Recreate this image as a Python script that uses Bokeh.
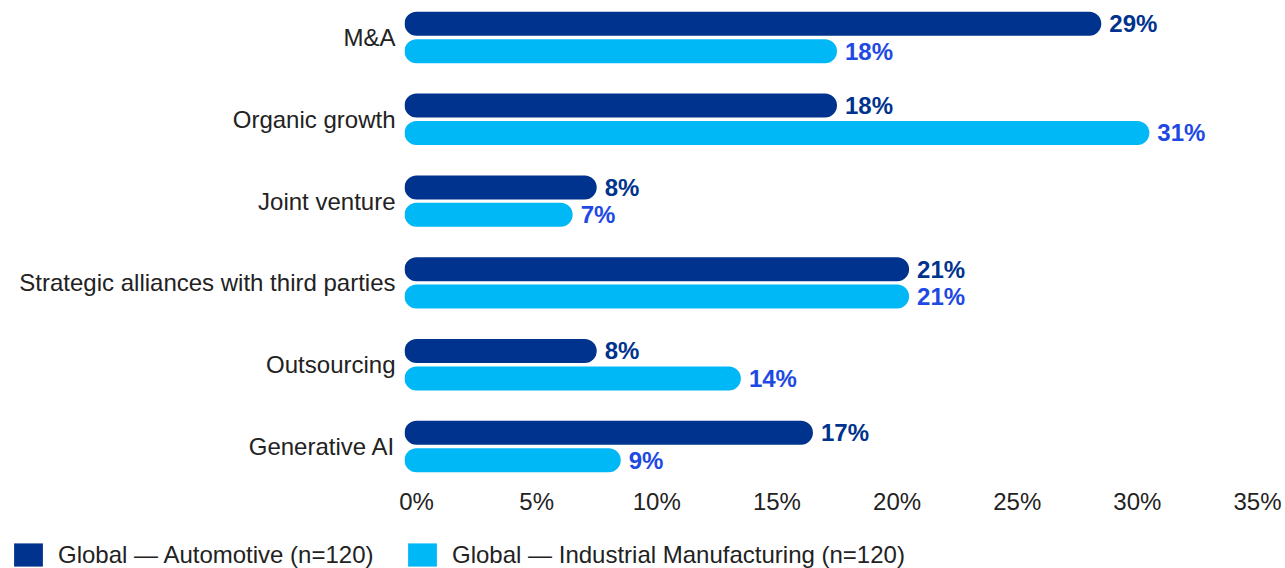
from bokeh.plotting import figure
from bokeh.layouts import column
from bokeh.models import (Range1d, LinearAxis, FixedTicker, ColumnDataSource,
                          Legend, LegendItem)
from bokeh.embed import file_html
from bokeh.resources import INLINE
from bokeh.core.properties import value

# ---- data ----
categories = ["M&A", "Organic growth", "Joint venture",
              "Strategic alliances with third parties", "Outsourcing", "Generative AI"]
automotive = [29, 18, 8, 21, 8, 17]
industrial = [18, 31, 7, 21, 14, 9]
x_ticks = [0, 5, 10, 15, 20, 25, 30, 35]
x_tick_labels = ["0%", "5%", "10%", "15%", "20%", "25%", "30%", "35%"]
series_names = ["Global \u2014 Automotive (n=120)",
                "Global \u2014 Industrial Manufacturing (n=120)"]

# ---- style ----
bar_colors = ["#00338D", "#00B8F5"]
label_colors = ["#00338D", "#1E49E2"]
text_color = "#222222"
FONT = "Liberation Sans"
FS = "24px"

n = len(categories)
ypos = [n - 1 - i for i in range(n)]
off = 0.1675
h = 0.2934

src_a = ColumnDataSource(dict(y=[y + off for y in ypos], v=automotive,
                              t=[f"{v}%" for v in automotive]))
src_i = ColumnDataSource(dict(y=[y - off for y in ypos], v=industrial,
                              t=[f"{v}%" for v in industrial]))

p = figure(width=1285, height=525, output_backend="svg", toolbar_location=None,
           x_range=Range1d(0, 36), y_range=Range1d(-0.4646, 5.4523),
           x_axis_location=None, y_axis_location="left",
           min_border_left=404, min_border_right=16,
           min_border_top=0, min_border_bottom=41)
p.frame_align = False
p.outline_line_color = None
p.xgrid.visible = False
p.ygrid.visible = False
p.background_fill_color = "white"
p.border_fill_color = "white"

p.hbar(y="y", left=0, right="v", height=h, source=src_a,
       fill_color=bar_colors[0], line_color=None, border_radius=12)
p.hbar(y="y", left=0, right="v", height=h, source=src_i,
       fill_color=bar_colors[1], line_color=None, border_radius=12)

p.text(x="v", y="y", text="t", source=src_a, x_offset=8,
       text_baseline="middle", text_align="left",
       text_font=value(FONT), text_font_style="bold", text_font_size=FS,
       text_color=label_colors[0])
p.text(x="v", y="y", text="t", source=src_i, x_offset=8,
       text_baseline="middle", text_align="left",
       text_font=value(FONT), text_font_style="bold", text_font_size=FS,
       text_color=label_colors[1])

# y axis (categories)
p.yaxis.ticker = FixedTicker(ticks=ypos)
p.yaxis.major_label_overrides = {y: c for y, c in zip(ypos, categories)}
p.yaxis.axis_line_color = None
p.yaxis.major_tick_line_color = None
p.yaxis.minor_tick_line_color = None
p.yaxis.major_tick_out = 0
p.yaxis.major_tick_in = 0
p.yaxis.major_label_standoff = 9
p.yaxis.major_label_text_font = FONT
p.yaxis.major_label_text_font_size = FS
p.yaxis.major_label_text_color = text_color

# x axis (percent ticks), labels offset slightly right as in the reference
p.extra_x_ranges = {"ticks": Range1d(-0.5, 35.5)}
ax = LinearAxis(x_range_name="ticks", ticker=FixedTicker(ticks=x_ticks),
                major_label_overrides={t: l for t, l in zip(x_ticks, x_tick_labels)})
ax.axis_line_color = None
ax.major_tick_line_color = None
ax.minor_tick_line_color = None
ax.major_tick_out = 0
ax.major_tick_in = 0
ax.major_label_standoff = 3
ax.major_label_text_font = FONT
ax.major_label_text_font_size = FS
ax.major_label_text_color = text_color
p.add_layout(ax, "below")

# legend strip below the chart
lf = figure(width=1285, height=43, output_backend="svg", toolbar_location=None,
            x_range=Range1d(0, 1), y_range=Range1d(0, 1),
            x_axis_location=None, y_axis_location=None,
            min_border_left=0, min_border_right=0, min_border_top=0, min_border_bottom=0)
lf.frame_align = False
lf.outline_line_color = None
lf.xgrid.visible = False
lf.ygrid.visible = False
nan = float("nan")
r1 = lf.quad(left=[nan], right=[nan], top=[nan], bottom=[nan],
             fill_color=bar_colors[0], line_color=None)
r2 = lf.quad(left=[nan], right=[nan], top=[nan], bottom=[nan],
             fill_color=bar_colors[1], line_color=None)
for r, name, loc in [(r1, series_names[0], (10, -1)), (r2, series_names[1], (404, -1))]:
    leg = Legend(items=[LegendItem(label=name, renderers=[r])], location=loc,
                 orientation="horizontal", padding=0, margin=0,
                 glyph_width=36, glyph_height=29, label_height=24, label_standoff=12,
                 label_text_font=FONT, label_text_font_size=FS,
                 label_text_color=text_color,
                 border_line_color=None, background_fill_alpha=0)
    lf.add_layout(leg)

layout = column(p, lf, spacing=0)
open("out.html", "w").write(file_html(layout, INLINE))
